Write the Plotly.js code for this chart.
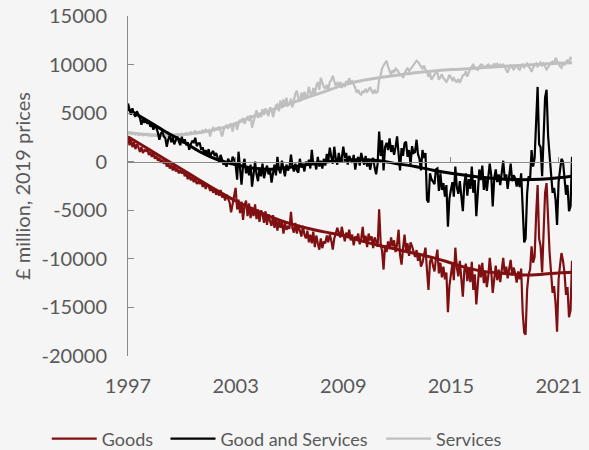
<!DOCTYPE html>
<html><head><meta charset="utf-8">
<script src="https://cdn.plot.ly/plotly-3.0.1.min.js"></script>
<style>html,body{margin:0;padding:0;background:#f5f5f5;} #chart{width:589px;height:450px;}</style>
</head><body><div id="chart"></div>
<script>
// Monthly observations, Jan 1997 – Oct 2021 (£ million, 2019 prices)
const goods = [
 2600, 1700, 2300, 1500, 2000, 1300, 1800, 1500, 1000, 1500, 900, 1200,
 1100, 1300, 700, 1000, 500, 900, 300, 600, 100, 400, -100, 200,
 -200, 100, -500, -100, -700, -300, -900, -400, -1000, -700, -1200, -900,
 -1200, -900, -1500, -1100, -1800, -1300, -1900, -1600, -2100, -1700, -2300, -2000,
 -2300, -1900, -2600, -2100, -2800, -2400, -2500, -3000, -2700, -3200, -2800, -3400,
 -3100, -3500, -2900, -3700, -3300, -4000, -3400, -3800, -4200, -5200, -4300, -3700,
 -2700, -4900, -3900, -5300, -4100, -6000, -4500, -4000, -5600, -4300, -5800, -4700,
 -5600, -4400, -5900, -4900, -6200, -5000, -5400, -6300, -5100, -6500, -5400, -6100,
 -6600, -5500, -6800, -5900, -7100, -6000, -6800, -6200, -7400, -6300, -7000, -6700,
 -6900, -5150, -6800, -7300, -6300, -7400, -6500, -7100, -7700, -6600, -7500, -7900,
 -7100, -8300, -7500, -8400, -7200, -8800, -7600, -8400, -9050, -7900, -8900, -8200,
 -8400, -7600, -8300, -7500, -8100, -9050, -7900, -7400, -6800, -7300, -7800, -6700,
 -7600, -8200, -7300, -7800, -7000, -8100, -7500, -8600, -7700, -8000, -7400, -8500,
 -7900, -6700, -8300, -7600, -8800, -7400, -8100, -7700, -8900, -7800, -8200, -8750,
 -4900, -8400, -9200, -11100, -8600, -9300, -8200, -9000, -7800, -8700, -8100, -9300,
 -8500, -7000, -9600, -10600, -8900, -7500, -9200, -8400, -9700, -8300, -8700, -9400,
 -9800, -9100, -10200, -9400, -10800, -10400, -9500, -8850, -11200, -13200, -10300, -9900,
 -10700, -11300, -10000, -9050, -11500, -10400, -11900, -10800, -12100, -11400, -15500, -12800,
 -11600, -10500, -12200, -8850, -10900, -11800, -10200, -12600, -13900, -11200, -10500, -12300,
 -11000, -12400, -10300, -13200, -11600, -14700, -12100, -10600, -11900, -10400, -12500, -11400,
 -12900, -11700, -9900, -11300, -13500, -11800, -10700, -12200, -11100, -12400, -10800, -9900,
 -11600, -10800, -12000, -11200, -10100, -11700, -10900, -11500, -12450, -11300, -12100, -11000,
 -15500, -17600, -17800, -13200, -11600, -11100, -8700, -10400, -9800, -5600, -2400, -7900,
 -8700, -11400, -7500, -3200, -2200, -7000, -9300, -11400, -13500, -12800, -14600, -17500,
 -12100, -10600, -9400, -10200, -11400, -13700, -12900, -16000, -15300, -10200
];
const goodsAndServices = [
 6000, 5200, 4840, 5500, 4900, 4630, 5200, 4840, 4500, 3800, 4400, 4000,
 4300, 3900, 4200, 3600, 3900, 3300, 3700, 3500, 3000, 2260, 2900, 3100,
 2600, 2400, 1540, 2300, 2700, 2000, 2500, 1800, 2200, 2600, 2100, 1700,
 2570, 1900, 2300, 1700, 2000, 1230, 1800, 2100, 2000, 2470, 1600, 1900,
 1900, 1230, 1500, 800, 1200, 700, 1300, 510, 900, 1100, 600, 900,
 400, 0, 700, 200, -300, -100, -510, 300, 0, -300, 510, 200,
 -300, -1850, 1030, -600, -2370, -400, 300, -1200, -500, -1400, -300, -2570,
 -900, 0, -1300, -2000, -600, -1500, -200, -1700, -1000, -400, -1300, -800,
 -2160, -1000, -300, -1400, 510, -800, -1200, 100, -700, -1500, -300, -900,
 -600, 720, -400, -1000, -200, -900, -1130, 300, -600, -200, -1000, 0,
 -400, 200, -700, 1230, -300, 0, -800, 500, -500, 100, -700, 300,
 -400, 800, 0, 1440, 500, -200, 1540, 300, -300, 900, 0, 400,
 1540, 400, 900, -300, 600, 200, -100, 700, -820, 100, 500, -400,
 900, 200, -300, 600, -500, 300, -820, 0, 400, -600, -1300, -200,
 3100, 600, 2200, -900, 1500, 1950, 1200, 2400, 1000, 1700, 700, 1500,
 2600, 800, -900, 1400, 600, 1900, 2060, 500, 1200, -300, 1600, 900,
 1000, 2260, 800, 300, -900, 1200, 400, 900, -3900, -4200, -1200, -1800,
 -2000, -2300, -800, -700, -3000, -1200, -2900, -2200, -3600, -2400, -6700, -3800,
 -2900, -2100, -3600, -500, -2600, -3300, -2000, -4000, -5100, -2300, -1200, -3500,
 -1800, -2800, -500, -3200, -1900, -5600, -2600, -800, -1900, -400, -2900, -1600,
 -3000, -1700, -200, -1400, -4600, -1700, -800, -2100, -1300, -2400, -1000, 100,
 -1800, -1300, -2800, -1600, -200, -2000, -1400, -1700, -2550, -1700, -2600, -1200,
 -5800, -8300, -7900, -3300, -1500, -1800, 1200, -500, 400, 4500, 7700, 1800,
 1500, -1500, 2600, 6600, 7400, 2700, 700, -1200, -3200, -2700, -3900, -6500,
 -2100, -800, 300, 0, -1400, -3400, -2400, -5100, -4600, 500
];
const services = [
 3100, 2900, 3000, 2850, 2950, 2800, 2900, 2750, 2850, 2800, 2700, 2850,
 2750, 2850, 2700, 2800, 2650, 2750, 2700, 2800, 2650, 2750, 2700, 2650,
 2700, 2800, 2650, 2750, 2700, 2850, 2750, 2800, 2700, 2850, 2800, 2750,
 2900, 2750, 2850, 2950, 2800, 2900, 3050, 2900, 3000, 3150, 2950, 3050,
 3100, 2950, 3200, 3050, 3300, 3150, 3250, 2600, 3300, 3500, 3250, 3450,
 3400, 3600, 3200, 2600, 3300, 3550, 3800, 3400, 3700, 3950, 3100, 3800,
 4000, 3300, 3900, 4300, 4100, 4500, 3900, 4400, 4700, 4200, 4800, 3500,
 4300, 4700, 5300, 4500, 5000, 4600, 5400, 4800, 5500, 5040, 4700, 5600,
 5400, 4600, 5100, 5800, 5900, 5200, 6300, 5500, 6400, 5700, 6600, 5800,
 5900, 6500, 5600, 6300, 7000, 7300, 6500, 6200, 7100, 6400, 7200, 6600,
 6900, 7700, 7000, 6800, 7600, 6900, 7800, 8200, 7400, 8640, 8000, 7700,
 7500, 7920, 7400, 8200, 8400, 8850, 8300, 7800, 8100, 7920, 8200, 7600,
 8100, 7700, 8300, 8000, 8600, 8200, 8300, 8000, 7600, 7100, 7400, 7000,
 6900, 7300, 7100, 7500, 7200, 7400, 7700, 7300, 7000, 7400, 7100, 7200,
 8440, 8900, 9600, 9900, 10200, 10400, 9800, 9300, 8950, 9400, 9200, 9600,
 9470, 9200, 8900, 9000, 8640, 9100, 9400, 9670, 9300, 9500, 9800, 10000,
 10100, 10400, 10300, 10000, 9800, 9600, 9900, 9500, 9260, 8750, 9100, 8440,
 8700, 9000, 9200, 9160, 8440, 8700, 9000, 8600, 8400, 8230, 8500, 8950,
 8700, 8400, 8600, 8300, 8230, 8500, 8130, 8600, 8900, 8950, 9300, 8750,
 9200, 9600, 9800, 9980, 9700, 9600, 9470, 9800, 10000, 9980, 9600, 9800,
 9900, 10000, 9670, 9900, 9700, 10100, 9900, 10080, 9800, 10000, 9780, 10000,
 9800, 9500, 9160, 9600, 9900, 9700, 9500, 9780, 9900, 9600, 9470, 9800,
 10000, 9700, 9900, 10100, 9800, 9600, 9260, 9700, 9900, 10100, 9800, 10000,
 10200, 9900, 10100, 9800, 9500, 9700, 10000, 10200, 10300, 10100, 10700, 10400,
 10000, 9800, 9670, 10200, 10000, 10300, 10500, 10200, 10700, 10600
];
// Trend estimates, read at the start of each year (plus the last month)
const trendDates = ['1997-01-01','1998-01-01','1999-01-01','2000-01-01','2001-01-01','2002-01-01',
 '2003-01-01','2004-01-01','2005-01-01','2006-01-01','2007-01-01','2008-01-01','2009-01-01',
 '2010-01-01','2011-01-01','2012-01-01','2013-01-01','2014-01-01','2015-01-01','2016-01-01',
 '2017-01-01','2018-01-01','2019-01-01','2020-01-01','2021-01-01','2021-10-01'];
const goodsTrend = [2570, 1460, 340, -770, -1900, -3000, -4040, -4900, -5700, -6350, -6850, -7250,
 -7600, -8150, -8620, -9030, -9440, -9870, -10420, -10980, -11340, -11500, -11650, -11600, -11450, -11380];
const goodsAndServicesTrend = [5400, 4320, 3190, 2160, 1030, 200, -300, -670, -770, -570, -300, -50,
 150, 200, 100, -200, -500, -870, -1180, -1440, -1650, -1800, -1850, -1800, -1650, -1490];
const servicesTrend = [2980, 2800, 2700, 2780, 3000, 3350, 3950, 4670, 5320, 5970, 6620, 7240,
 7890, 8330, 8640, 8900, 9160, 9330, 9480, 9570, 9720, 9830, 9930, 10030, 10140, 10190];

const tickYears = ['1997','2003','2009','2015','2021'];
const tickDates = tickYears.map(y => y + '-01-01');
const yTicks = [-20000, -15000, -10000, -5000, 0, 5000, 10000, 15000];

const months = goods.map((_, i) => {
  const y = 1997 + Math.floor(i / 12), m = (i % 12) + 1;
  return y + '-' + (m < 10 ? '0' : '') + m + '-01';
});

const cGoods = '#7f0f10', cTotal = '#000000', cServ = '#bfbfbf';
const txt = '#595959', axc = '#898989';
const F = 'Lato, "Open Sans", sans-serif';

const traces = [
  {x: months, y: services, type: 'scatter', mode: 'lines', name: 'Services', legend: 'legend3',
   line: {color: cServ, width: 2.2}},
  {x: trendDates, y: servicesTrend, type: 'scatter', mode: 'lines', showlegend: false,
   line: {color: cServ, width: 3, shape: 'spline'}, hoverinfo: 'skip'},
  {x: months, y: goods, type: 'scatter', mode: 'lines', name: 'Goods', legend: 'legend',
   line: {color: cGoods, width: 2.2}},
  {x: trendDates, y: goodsTrend, type: 'scatter', mode: 'lines', showlegend: false,
   line: {color: cGoods, width: 3, shape: 'spline'}, hoverinfo: 'skip'},
  {x: months, y: goodsAndServices, type: 'scatter', mode: 'lines', name: 'Good and Services', legend: 'legend2',
   line: {color: cTotal, width: 2.2}},
  {x: trendDates, y: goodsAndServicesTrend, type: 'scatter', mode: 'lines', showlegend: false,
   line: {color: cTotal, width: 3, shape: 'spline'}, hoverinfo: 'skip'},
  {x: [], y: [], xaxis: 'x2', type: 'scatter', mode: 'lines', showlegend: false}
];

const xr = ['1997-01-01', '2021-10-01'];
const legendBase = {orientation: 'h', yanchor: 'middle', xanchor: 'left', y: -0.244,
  font: {family: F, size: 18, color: txt}, bgcolor: 'rgba(0,0,0,0)', itemwidth: 45, tracegroupgap: 0};

const layout = {
  width: 589, height: 450,
  margin: {l: 128, r: 17, t: 16, b: 93.5, autoexpand: false},
  paper_bgcolor: '#f5f5f5', plot_bgcolor: '#f5f5f5',
  font: {family: F, color: txt, size: 20},
  showlegend: true,
  xaxis: {type: 'date', range: xr, tickvals: tickDates, ticktext: tickYears, ticks: '',
    showline: false, showgrid: false, zeroline: false, ticklabelstandoff: 16, automargin: false,
    tickfont: {family: F, size: 20, color: txt}},
  xaxis2: {type: 'date', range: xr, overlaying: 'x', anchor: 'free', position: 20000 / 35000,
    side: 'bottom', showline: true, linecolor: axc, linewidth: 1, ticks: 'inside', ticklen: 5,
    tickcolor: axc, tickvals: tickDates, showticklabels: false, showgrid: false, zeroline: false},
  yaxis: {range: [-20000, 15000], tickvals: yTicks, ticktext: yTicks.map(String), ticks: 'inside',
    ticklen: 6, tickcolor: axc, showline: true, linecolor: axc, linewidth: 1, showgrid: false,
    zeroline: false, ticklabelstandoff: 16, automargin: false, tickfont: {family: F, size: 20, color: txt},
    title: {text: '£ million, 2019 prices', font: {family: F, size: 20, color: txt}, standoff: 5}},
  legend: Object.assign({}, legendBase, {x: -0.183}),
  legend2: Object.assign({}, legendBase, {x: 0.0845}),
  legend3: Object.assign({}, legendBase, {x: 0.570})
};

Plotly.newPlot('chart', traces, layout, {displayModeBar: false, staticPlot: true});
</script>
</body></html>
